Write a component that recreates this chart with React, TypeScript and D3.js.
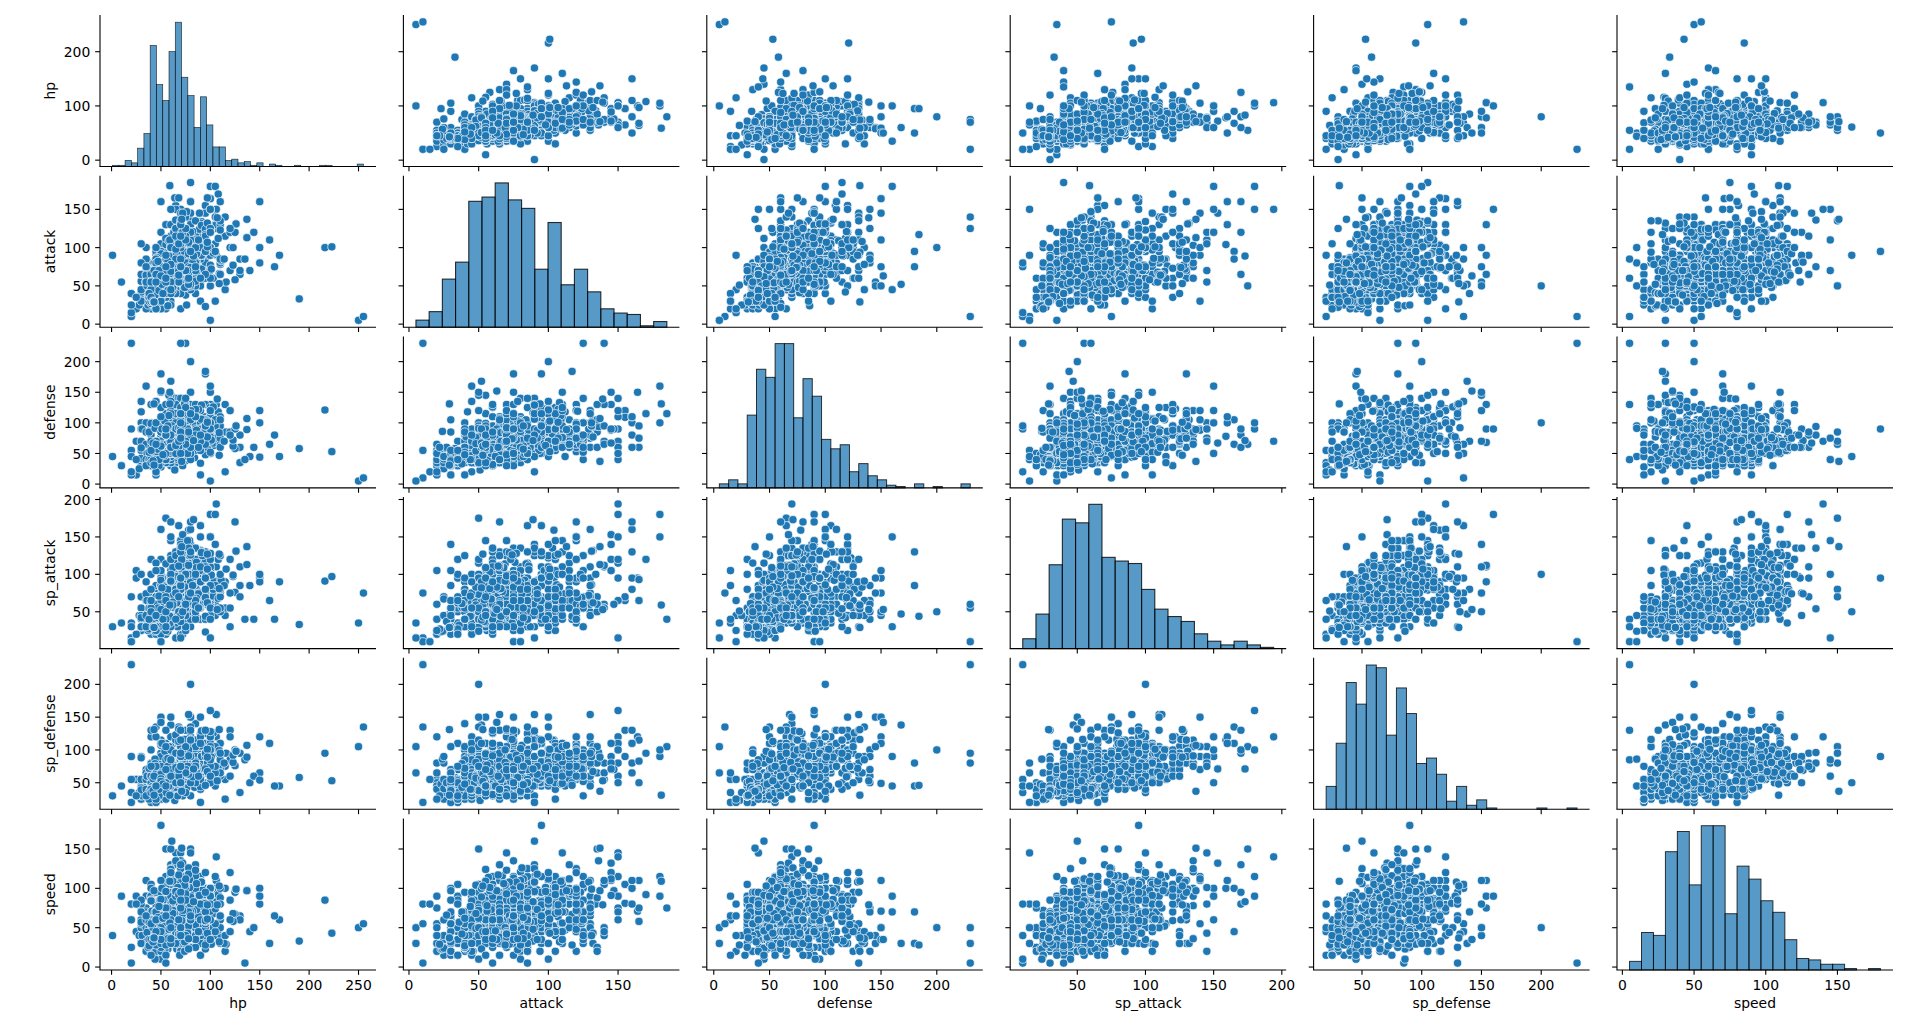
import React from "react";
import * as d3 from "d3";

const statNames = ["hp", "attack", "defense", "sp_attack", "sp_defense", "speed"];
const gen1: number[][] = [
[45,49,49,65,65,45],[60,62,63,80,80,60],[80,100,123,122,120,80],[39,52,43,60,50,65],[58,64,58,80,65,80],[78,104,78,159,115,100],[44,48,65,50,64,43],[59,63,80,65,80,58],[79,103,120,135,115,78],[45,30,35,20,20,45],[50,20,55,25,25,30],[60,45,50,90,80,70],[40,35,30,20,20,50],[45,25,50,25,25,35],[65,150,40,15,80,145],[40,45,40,35,35,56],[63,60,55,50,50,71],[83,80,80,135,80,121],[30,56,35,25,35,72],[75,71,70,40,80,77],[40,60,30,31,31,70],[65,90,65,61,61,100],[35,60,44,40,54,55],[60,95,69,65,79,80],[35,55,40,50,50,90],[60,85,50,95,85,110],[50,75,90,10,35,40],[75,100,120,25,65,65],[55,47,52,40,40,41],[70,62,67,55,55,56],[90,92,87,75,85,76],[46,57,40,40,40,50],[61,72,57,55,55,65],[81,102,77,85,75,85],[70,45,48,60,65,35],[95,70,73,95,90,60],[38,41,40,50,65,65],[73,67,75,81,100,109],[115,45,20,45,25,20],[140,70,45,85,50,45],[40,45,35,30,40,55],[75,80,70,65,75,90],[45,50,55,75,65,30],[60,65,70,85,75,40],[75,80,85,110,90,50],[35,70,55,45,55,25],[60,95,80,60,80,30],[60,55,50,40,55,45],[70,65,60,90,75,90],[10,55,30,35,45,90],[35,100,60,50,70,110],[40,35,35,50,40,90],[65,60,60,75,65,115],[50,52,48,65,50,55],[80,82,78,95,80,85],[40,80,35,35,45,70],[65,105,60,60,70,95],[55,70,45,70,50,60],[90,110,80,100,80,95],[40,50,40,40,40,90],[65,65,65,50,50,90],[90,95,95,70,90,70],[25,20,15,105,55,90],[40,35,30,120,70,105],[55,50,65,175,105,150],[70,80,50,35,35,35],[80,100,70,50,60,45],[90,130,80,65,85,55],[50,75,35,70,30,40],[65,90,50,85,45,55],[80,105,65,100,70,70],[40,40,35,50,100,70],[80,70,65,80,120,100],[40,80,100,30,30,20],[55,95,115,45,45,35],[80,120,130,55,65,45],[50,85,55,65,65,90],[65,100,70,80,80,105],[90,65,65,40,40,15],[95,75,180,130,80,30],[25,35,70,95,55,45],[50,60,95,120,70,70],[52,90,55,58,62,60],[35,85,45,35,35,75],[60,110,70,60,60,110],[65,45,55,45,70,45],[90,70,80,70,95,70],[80,80,50,40,50,25],[105,105,75,65,100,50],[30,65,100,45,25,40],[50,95,180,85,45,70],[30,35,30,100,35,80],[45,50,45,115,55,95],[60,65,80,170,95,130],[35,45,160,30,45,70],[60,48,45,43,90,42],[85,73,70,73,115,67],[30,105,90,25,25,50],[55,130,115,50,50,75],[40,30,50,55,55,100],[60,50,70,80,80,150],[60,40,80,60,45,40],[95,105,85,125,75,45],[50,50,95,40,50,35],[60,80,110,50,80,45],[50,120,53,35,110,87],[50,105,79,35,110,76],[90,55,75,60,75,30],[40,65,95,60,45,35],[65,90,120,85,70,60],[80,85,95,30,30,25],[105,130,120,45,45,40],[250,5,5,35,105,50],[65,55,115,100,40,60],[105,125,100,60,100,100],[30,40,70,70,25,60],[55,65,95,95,45,85],[45,67,60,35,50,63],[80,92,65,65,80,68],[30,45,55,70,55,85],[60,75,85,100,85,115],[40,45,65,100,120,90],[70,110,80,55,80,105],[65,50,35,115,95,95],[65,83,57,95,85,105],[65,95,57,100,85,93],[65,155,120,65,90,105],[75,100,95,40,70,110],[20,10,55,15,20,80],[95,155,109,70,130,81],[130,85,80,85,95,60],[48,48,48,48,48,48],[55,55,50,45,65,55],[130,65,60,110,95,65],[65,65,60,110,95,130],[65,130,60,95,110,65],[65,60,70,85,75,40],[35,40,100,90,55,35],[70,60,125,115,70,55],[30,80,90,55,45,55],[60,115,105,65,70,80],[80,135,85,70,95,150],[160,110,65,65,110,30],[90,85,100,95,125,85],[90,90,85,125,90,100],[90,100,90,125,85,90],[41,64,45,50,50,50],[61,84,65,70,70,70],[91,134,95,100,100,80],[106,150,70,194,120,140],[100,100,100,100,100,100],
];
const gen2: number[][] = [
[45,49,65,49,65,45],[60,62,80,63,80,60],[80,82,100,83,100,80],[39,52,43,60,50,65],[58,64,58,80,65,80],[78,84,78,109,85,100],[50,65,64,44,48,43],[65,80,80,59,63,58],[85,105,100,79,83,78],[35,46,34,35,45,20],[85,76,64,45,55,90],[60,30,30,36,56,50],[100,50,50,86,96,70],[40,20,30,40,80,55],[55,35,50,55,110,85],[40,60,40,40,40,30],[70,90,70,60,70,40],[85,90,80,70,80,130],[75,38,38,56,56,67],[125,58,58,76,76,67],[20,40,15,35,35,60],[50,25,28,45,55,15],[90,30,15,40,20,15],[35,20,65,40,65,20],[55,40,85,80,105,40],[40,50,45,70,45,70],[65,75,70,95,70,95],[55,40,40,65,45,35],[70,55,55,80,60,45],[90,95,105,165,110,45],[75,80,95,90,100,50],[70,20,50,20,50,40],[100,50,80,60,80,50],[70,100,115,30,65,30],[90,75,75,90,100,70],[35,35,40,35,55,50],[55,45,50,45,65,80],[75,55,70,55,95,110],[55,70,55,40,55,85],[30,30,30,30,30,30],[75,75,55,105,85,30],[65,65,45,75,45,95],[55,45,45,25,25,15],[95,85,85,65,65,35],[65,65,60,130,95,110],[95,65,110,60,130,65],[60,85,42,85,42,91],[95,75,80,100,110,30],[60,60,60,85,85,85],[48,72,48,72,48,48],[190,33,58,33,58,33],[70,80,65,90,65,85],[50,65,90,35,35,15],[75,90,140,60,60,40],[100,70,70,65,65,45],[65,75,105,35,65,85],[75,125,230,55,95,30],[60,80,50,40,40,30],[90,120,75,60,60,45],[65,95,85,55,55,85],[70,150,140,65,100,75],[20,10,230,10,230,5],[80,185,115,40,105,75],[55,95,55,35,75,115],[60,80,50,50,50,40],[90,130,75,75,75,55],[40,40,40,70,40,20],[60,50,120,90,80,30],[50,50,40,30,30,50],[100,100,80,60,60,50],[65,55,95,65,95,35],[35,65,35,65,35,65],[75,105,75,105,75,45],[45,55,45,65,45,75],[85,40,70,80,140,70],[65,80,140,40,70,70],[45,60,30,80,50,65],[75,90,90,140,90,115],[75,95,95,95,95,85],[90,60,60,40,40,40],[90,120,120,60,60,50],[85,80,90,105,95,60],[73,95,62,85,65,85],[55,20,35,20,45,75],[35,35,35,35,35,35],[50,95,95,35,110,70],[45,30,15,85,65,65],[45,63,37,65,55,95],[45,75,37,70,55,83],[95,80,105,40,70,100],[255,10,10,75,135,55],[90,85,75,115,100,115],[115,115,85,90,75,100],[100,75,115,90,115,85],[50,64,50,45,50,41],[70,84,70,65,70,51],[100,164,150,95,120,71],[106,90,130,90,154,110],[106,130,90,110,154,90],[100,100,100,100,100,100],
];
const gen3: number[][] = [
[40,45,35,65,55,70],[50,65,45,85,65,95],[70,110,75,145,85,145],[45,60,40,70,50,45],[60,85,60,85,60,55],[80,160,80,130,80,100],[50,70,50,50,50,40],[70,85,70,60,70,50],[100,150,110,95,110,70],[35,55,35,30,30,35],[70,90,70,60,60,70],[38,30,41,30,41,60],[78,70,61,50,61,100],[45,45,35,20,30,20],[50,35,55,25,25,15],[60,70,50,100,50,65],[50,35,55,25,25,15],[60,50,70,50,90,65],[40,30,30,40,50,30],[60,50,50,60,70,50],[80,70,70,90,100,70],[40,40,50,30,30,30],[70,70,40,60,40,60],[90,100,60,90,60,80],[40,55,30,30,30,85],[60,85,60,75,50,125],[40,30,30,55,30,85],[60,50,100,95,70,65],[28,25,25,45,35,40],[38,35,35,65,55,50],[68,85,65,165,135,100],[40,30,32,50,52,65],[70,60,62,100,82,80],[60,40,60,40,60,35],[60,130,80,60,60,70],[60,60,60,35,35,30],[80,80,80,55,55,90],[150,160,100,95,65,100],[31,45,90,30,30,40],[61,90,45,50,50,160],[1,90,45,30,30,40],[64,51,23,51,23,28],[84,71,43,71,43,48],[104,91,63,91,73,68],[72,60,30,20,30,25],[144,120,60,40,60,50],[50,20,40,20,40,20],[30,45,135,45,90,30],[50,45,45,35,35,50],[70,65,65,55,55,90],[50,85,125,85,115,20],[50,105,125,55,95,50],[50,70,100,40,40,30],[60,90,140,50,50,40],[70,140,230,60,80,50],[30,40,55,40,55,60],[60,100,85,80,85,100],[40,45,40,65,40,65],[70,75,80,135,80,135],[60,50,40,85,75,95],[60,40,50,75,85,95],[65,73,75,47,85,85],[65,47,75,73,85,85],[50,60,45,100,80,65],[70,43,53,43,53,40],[100,73,83,73,83,55],[45,90,20,65,20,65],[70,140,70,110,65,105],[130,70,35,70,35,60],[170,90,45,90,45,60],[60,60,40,65,45,35],[70,120,100,145,105,20],[70,85,140,85,70,20],[60,25,35,70,80,60],[80,45,65,90,110,80],[60,60,60,60,60,60],[45,100,45,45,45,10],[50,70,50,50,50,70],[80,100,80,80,80,100],[50,85,40,85,40,35],[70,115,60,115,60,55],[45,40,60,40,75,50],[75,110,110,110,105,80],[73,115,60,60,60,90],[73,100,60,100,60,65],[90,55,65,95,85,70],[90,95,85,55,65,70],[50,48,43,46,41,60],[110,78,73,76,71,60],[43,80,65,50,35,35],[63,120,85,90,55,55],[40,40,55,40,70,55],[60,70,105,70,120,75],[66,41,77,61,87,23],[86,81,97,81,107,43],[45,95,50,40,50,75],[75,125,100,70,80,45],[20,15,20,10,55,80],[95,60,79,100,125,81],[70,70,70,70,70,70],[60,90,70,60,120,40],[44,75,35,63,33,45],[64,165,75,93,83,75],[20,40,90,30,90,25],[40,70,130,60,130,25],[99,68,83,72,87,51],[75,50,80,95,90,65],[65,150,60,115,60,115],[95,23,48,23,48,23],[50,50,50,50,50,50],[80,120,80,120,80,100],[70,40,50,55,50,25],[90,60,70,75,70,45],[110,80,90,95,90,65],[35,64,85,74,55,32],[55,104,105,94,75,52],[55,84,105,114,75,52],[100,90,130,45,65,55],[43,30,55,40,65,97],[45,75,60,40,30,50],[65,95,100,60,50,50],[95,145,130,120,90,120],[40,55,80,35,60,30],[60,75,100,55,80,50],[80,145,150,105,110,110],[80,100,200,50,100,50],[80,50,100,100,200,50],[80,75,150,75,150,50],[80,100,120,140,150,110],[80,130,100,160,120,110],[100,150,90,180,160,90],[100,180,160,150,90,90],[105,180,100,180,100,115],[100,100,100,100,100,100],[50,95,90,95,90,180],
];
const gen4: number[][] = [
[55,68,64,45,55,31],[75,89,85,55,65,36],[95,109,105,75,85,56],[44,58,44,58,44,61],[64,78,52,78,52,81],[76,104,71,104,71,108],[53,51,53,61,56,40],[64,66,68,81,76,50],[84,86,88,111,101,60],[40,55,30,30,30,60],[55,75,50,40,40,80],[85,120,70,50,60,100],[59,45,40,35,40,31],[79,85,60,55,60,71],[37,25,41,25,41,25],[77,85,51,55,51,65],[45,65,34,40,34,45],[60,85,49,60,49,60],[80,120,79,95,79,70],[40,30,35,50,70,55],[60,70,65,125,105,90],[67,125,40,30,30,58],[97,165,60,65,50,58],[30,42,118,42,88,30],[60,52,168,47,138,30],[40,29,45,29,45,36],[60,59,85,79,105,36],[70,94,50,94,50,66],[30,30,42,30,42,70],[70,80,102,80,102,40],[60,45,70,45,90,95],[55,65,35,60,30,85],[85,105,55,85,50,115],[45,35,45,62,53,35],[70,60,70,87,78,85],[76,48,48,57,62,34],[111,83,68,92,82,39],[75,100,66,60,66,115],[90,50,34,60,44,70],[150,80,44,90,54,80],[55,66,44,44,56,85],[65,136,94,54,96,135],[60,60,60,105,105,105],[100,125,52,105,52,71],[49,55,42,42,37,85],[71,82,64,64,59,112],[45,30,50,65,50,45],[63,63,47,41,41,74],[103,93,67,71,61,84],[57,24,86,24,86,23],[67,89,116,79,116,33],[50,80,95,10,45,10],[20,25,45,70,90,60],[100,5,5,15,65,30],[76,65,45,92,42,91],[50,92,108,92,108,35],[58,70,45,40,45,42],[68,90,65,50,55,82],[108,170,115,120,95,92],[135,85,40,40,85,5],[40,70,40,35,40,60],[70,145,88,140,70,112],[68,72,78,38,42,32],[108,112,118,68,72,47],[40,50,90,30,55,65],[70,90,110,60,75,95],[48,61,40,61,40,50],[83,106,65,86,65,85],[74,100,72,90,72,46],[49,49,56,49,61,66],[69,69,76,69,86,91],[45,20,50,60,120,50],[60,62,50,62,60,40],[90,132,105,132,105,30],[70,120,65,45,85,125],[70,70,115,130,90,60],[110,85,95,80,95,50],[115,140,130,55,55,40],[100,100,125,110,50,50],[75,123,67,95,85,95],[75,95,67,125,95,83],[85,50,95,120,115,80],[86,76,86,116,56,95],[65,110,130,60,65,95],[65,60,110,130,95,65],[75,95,125,45,75,95],[110,130,80,70,60,80],[85,80,70,135,75,90],[68,165,95,65,115,110],[60,55,145,75,150,40],[45,100,135,65,135,45],[70,80,70,80,70,110],[50,65,107,105,107,86],[75,75,130,75,130,95],[80,105,105,105,105,80],[75,125,70,125,70,115],[100,120,120,150,100,90],[90,120,100,150,120,100],[91,90,106,130,106,77],[110,160,110,80,110,100],[150,100,120,100,120,90],[120,70,120,75,130,85],[80,80,80,80,80,80],[100,100,100,100,100,100],[70,90,90,135,90,125],[100,100,100,100,100,100],[120,120,120,120,120,120],
];
const gen5: number[][] = [
[100,100,100,100,100,100],[45,45,55,45,55,63],[60,60,75,60,75,83],[75,75,95,75,95,113],[65,63,45,45,45,45],[90,93,55,70,55,55],[110,123,65,100,65,65],[55,55,45,63,45,45],[75,75,60,83,60,60],[95,100,85,108,70,70],[45,55,39,35,39,42],[60,85,69,60,69,77],[45,60,45,25,45,55],[65,80,65,35,65,60],[85,110,90,45,90,80],[41,50,37,50,37,66],[64,88,50,88,50,106],[50,53,48,53,48,64],[75,98,63,98,63,101],[50,53,48,53,48,64],[75,98,63,98,63,101],[50,53,48,53,48,64],[75,98,63,98,63,101],[76,25,45,67,55,24],[116,55,85,107,95,29],[50,55,50,36,30,43],[62,77,62,50,42,65],[80,115,80,65,55,93],[45,60,32,50,32,76],[75,100,63,80,63,116],[55,75,85,25,25,15],[70,105,105,50,40,20],[85,135,130,60,80,25],[65,45,43,55,43,72],[67,57,55,77,55,114],[60,85,40,30,45,68],[110,135,60,50,65,88],[103,60,126,80,126,50],[75,80,55,25,35,35],[85,105,85,40,50,40],[105,140,95,55,65,45],[50,50,40,50,40,64],[75,65,55,65,55,69],[105,95,75,85,75,74],[120,100,85,30,85,45],[75,125,75,30,75,85],[45,53,70,40,60,42],[55,63,90,50,80,42],[75,103,80,70,80,92],[30,45,59,30,39,57],[40,55,99,40,79,47],[60,100,89,55,69,112],[40,27,60,37,50,66],[60,67,85,77,75,116],[45,35,50,70,50,30],[70,60,75,110,75,90],[70,92,65,80,55,98],[50,72,35,35,35,65],[60,82,45,45,45,74],[95,117,80,65,70,92],[70,90,45,15,45,50],[105,30,105,140,105,55],[75,86,67,106,67,60],[50,65,85,35,35,55],[70,105,125,65,75,45],[50,75,70,35,70,48],[65,90,115,45,115,58],[72,58,80,103,80,97],[38,30,85,55,65,30],[58,50,145,95,105,30],[54,78,103,53,45,22],[74,108,133,83,65,32],[55,112,45,74,45,70],[75,140,65,112,65,110],[50,50,62,40,62,65],[80,95,82,60,82,75],[40,65,40,80,40,65],[60,105,60,120,60,105],[55,50,40,40,40,75],[75,95,60,65,60,115],[45,30,50,55,65,45],[60,45,70,75,85,55],[70,55,95,95,110,65],[45,30,40,105,50,20],[65,40,50,125,60,30],[110,65,75,125,85,30],[62,44,50,44,50,55],[75,87,63,87,63,98],[36,50,50,65,60,44],[51,65,65,80,75,59],[71,95,85,110,95,79],[60,60,50,40,50,75],[80,100,70,60,70,95],[55,75,60,75,60,103],[50,75,45,40,45,60],[70,135,105,60,105,20],[69,55,45,55,55,15],[114,85,70,85,80,30],[55,40,50,65,85,40],[100,60,70,85,105,60],[165,75,80,40,45,65],[50,47,50,57,50,65],[70,77,60,97,60,108],[44,50,91,24,86,10],[74,94,131,54,116,20],[40,55,70,45,60,30],[60,80,95,70,85,50],[60,100,115,70,85,90],[35,55,40,45,40,60],[65,85,70,75,70,40],[85,115,80,105,80,50],[55,55,55,85,55,30],[75,75,75,125,95,40],[50,30,55,65,55,20],[60,40,60,95,60,55],[60,55,90,145,90,80],[46,87,60,30,40,57],[66,117,70,40,50,67],[76,147,90,60,70,97],[55,70,40,60,40,40],[95,130,80,70,80,50],[80,50,50,95,135,105],[50,40,85,40,65,25],[80,70,40,100,60,145],[109,66,84,81,99,32],[45,85,50,55,50,65],[65,125,60,95,60,105],[77,120,90,60,90,48],[59,74,50,35,50,35],[89,124,80,55,80,55],[45,85,70,40,40,60],[65,125,100,60,70,70],[95,110,95,40,95,55],[70,83,50,37,50,60],[100,123,75,57,75,80],[70,55,75,45,65,60],[110,65,105,55,95,80],[85,97,66,105,66,65],[58,109,112,48,48,109],[52,65,50,45,50,38],[72,85,70,65,70,58],[92,105,90,125,90,98],[55,85,55,50,55,60],[85,60,65,135,105,100],[91,90,129,90,72,108],[91,129,90,72,90,108],[91,90,72,90,129,108],[79,115,70,125,80,111],[79,105,70,145,80,101],[100,120,100,150,120,90],[100,150,120,120,100,90],[89,145,90,105,80,91],[125,120,90,170,100,95],[91,72,90,129,90,108],[100,77,77,128,128,90],[71,120,95,120,95,99],
];
const gen6: number[][] = [
[56,61,65,48,45,38],[61,78,95,56,58,57],[88,107,122,74,75,64],[40,45,40,62,60,60],[59,59,58,90,70,73],[75,69,72,114,100,104],[41,56,40,62,44,71],[54,63,52,83,56,97],[72,145,67,153,71,132],[38,36,38,32,36,57],[85,56,77,50,77,78],[45,50,43,40,38,62],[62,73,55,56,52,84],[78,81,71,74,69,126],[38,35,40,27,25,35],[45,22,60,27,30,29],[80,52,50,90,50,89],[62,50,58,73,54,72],[86,68,72,109,66,106],[44,38,39,61,79,42],[54,45,47,75,98,52],[78,65,68,112,154,75],[66,65,48,62,57,52],[123,100,62,97,81,68],[67,82,62,46,48,43],[95,124,78,69,71,58],[75,80,60,65,90,102],[62,48,54,63,60,68],[74,48,76,83,81,104],[45,80,100,35,37,28],[59,110,150,45,49,35],[60,150,50,150,50,60],[78,52,60,63,65,23],[101,72,72,99,89,29],[62,48,66,59,57,49],[82,80,86,85,75,72],[53,54,53,37,46,45],[86,92,88,68,75,73],[42,52,67,39,56,50],[72,105,115,54,86,68],[50,60,60,60,60,30],[65,75,90,97,123,44],[50,53,62,58,63,44],[71,73,88,120,89,59],[44,38,33,61,43,70],[62,55,52,109,94,109],[58,89,77,45,45,48],[82,121,119,69,59,71],[77,59,50,67,63,46],[123,77,72,99,92,58],[95,65,65,110,130,60],[78,92,75,74,63,118],[67,58,57,81,67,101],[50,50,150,50,150,50],[45,50,35,55,75,40],[68,75,53,83,113,60],[90,100,70,110,150,80],[57,80,91,80,87,75],[43,70,48,50,60,38],[85,110,76,65,82,56],[59,66,70,44,55,56],[85,100,122,58,75,54],[55,69,85,32,35,28],[95,117,184,44,46,28],[40,30,35,45,40,55],[85,70,80,97,80,123],[126,131,95,131,98,99],[126,131,95,131,98,99],[216,100,121,91,95,85],[50,160,110,160,110,110],[80,160,60,170,130,80],[80,110,120,130,90,70],
];
const gen7: number[][] = [
[68,55,55,50,50,42],[78,75,75,70,70,52],[78,107,75,100,100,70],[45,65,40,60,40,70],[65,85,50,80,50,90],[95,115,90,80,90,60],[50,54,54,66,56,40],[60,69,69,91,81,50],[80,74,74,126,116,60],[35,75,30,30,30,65],[55,85,50,40,50,75],[80,120,75,75,75,60],[48,70,30,30,30,45],[88,110,60,55,60,45],[47,62,45,55,45,46],[57,82,95,55,75,36],[77,70,90,145,75,43],[47,82,57,42,47,63],[97,132,77,62,67,43],[75,70,70,98,70,93],[40,45,40,55,40,84],[60,55,60,95,70,124],[45,65,40,30,40,60],[75,115,65,55,65,112],[45,20,20,25,25,40],[50,53,62,43,52,45],[50,63,152,53,142,35],[70,100,70,45,55,45],[100,125,100,55,85,35],[38,40,52,40,72,27],[68,70,92,50,132,42],[40,55,35,50,35,35],[70,105,90,80,90,45],[40,35,55,65,75,15],[60,45,80,90,100,30],[48,44,40,71,40,77],[68,64,60,111,60,117],[70,75,50,45,50,50],[120,125,80,55,60,60],[42,30,38,30,38,32],[52,40,48,40,48,62],[72,120,98,50,98,72],[51,52,90,82,110,100],[90,60,80,90,110,60],[100,120,90,40,60,80],[25,35,40,20,30,80],[75,125,140,60,90,40],[55,55,80,70,45,15],[85,75,110,100,75,35],[55,60,130,30,130,5],[95,95,95,95,95,59],[95,95,95,95,95,95],[60,100,60,100,60,120],[65,115,65,75,95,96],[60,78,135,91,85,36],[65,98,63,40,73,96],[55,90,80,50,105,96],[68,105,70,70,70,92],[78,60,85,135,91,36],[70,131,100,86,90,40],[45,55,65,45,45,45],[55,75,90,65,70,65],[75,110,125,100,105,85],[70,115,85,95,75,130],[70,85,75,130,115,95],[70,130,115,85,95,75],[70,75,115,95,130,85],[43,29,31,29,31,37],[43,29,131,29,131,37],[137,137,107,113,89,97],[137,113,89,137,107,97],[109,53,47,127,131,103],[107,139,139,53,53,79],[71,137,37,137,37,151],[83,89,71,173,71,83],[97,101,103,107,101,61],[59,181,131,59,31,109],[223,101,53,97,53,43],[97,107,101,127,89,79],[80,95,115,130,115,65],
];
const rows = [...gen1, ...gen2, ...gen3, ...gen4, ...gen5, ...gen6, ...gen7];

const hpBins = [1,1,5,3,15,27,99,67,54,94,118,73,58,32,57,34,16,16,5,6,3,4,1,3,0,2,1,0,0,1,0,0,0,1,1,0,0,0,0,2];
const attackBins = [5,11,34,46,89,92,102,90,84,41,74,30,41,25,13,10,9,1,4];
const defenseBins = [3,6,3,54,88,82,107,107,52,81,68,36,29,32,12,18,9,6,2,1,0,3,0,1,0,0,3];
const spAttackBins = [8,28,68,105,102,117,74,71,69,48,32,26,22,12,6,3,6,3,1];
const spDefenseBins = [17,49,94,78,107,105,55,90,71,34,38,26,6,17,3,7,1,0,0,0,0,1,0,0,1];
const speedBins = [6,26,24,82,96,59,100,100,39,72,63,48,40,21,8,7,4,4,1,0,1];
const histCounts = [hpBins, attackBins, defenseBins, spAttackBins, spDefenseBins, speedBins];

const xTickValues = [[0,50,100,150,200,250],[0,50,100,150],[0,50,100,150,200],[50,100,150,200],[50,100,150,200],[0,50,100,150]];
const yTickValues = [[0,100,200],[0,50,100,150],[0,50,100,150,200],[50,100,150,200],[50,100,150,200],[0,50,100,150]];

const W = 1920, H = 1013;
const panelW = 276, panelH = 151.5;
const lefts = d3.range(6).map((i) => 100 + i * 303.4);
const tops = d3.range(6).map((i) => 15 + i * 160.7);
const extents = statNames.map((_, i) => d3.extent(rows, (d) => d[i]) as [number, number]);
const pad = (e: [number, number]): [number, number] => { const m = (e[1] - e[0]) * 0.05; return [e[0] - m, e[1] + m]; };
const xScales = extents.map((e, i) => d3.scaleLinear().domain(pad(e)).range([lefts[i], lefts[i] + panelW]));
const yScales = extents.map((e, i) => d3.scaleLinear().domain(pad(e)).range([tops[i] + panelH, tops[i]]));
const fontFamily = "'DejaVu Sans'";
const tickLen = 4.86, tickW = 1.1, fs = 13.9;
const blue = "#1f77b4";

function Panel({ r, c }: { r: number; c: number }) {
  const x0 = lefts[c], y0 = tops[r], x = xScales[c], y = yScales[r];
  const bottom = y0 + panelH;
  let marks: React.ReactNode;
  if (r === c) {
    const counts = histCounts[c];
    const [a, b] = extents[c];
    const bw = (b - a) / counts.length;
    const hy = d3.scaleLinear().domain([0, (d3.max(counts) as number) * 1.05]).range([bottom, y0]);
    marks = counts.map((n, i) => n > 0 ? (
      <rect key={i} x={x(a + i * bw)} width={x(a + (i + 1) * bw) - x(a + i * bw)} y={hy(n)} height={bottom - hy(n)}
        fill={blue} fillOpacity={0.75} stroke="#000" strokeOpacity={0.8} strokeWidth={c === 0 ? 0.65 : c === 1 || c === 3 ? 1.1 : 0.95} />
    ) : null);
  } else {
    marks = rows.map((d, i) => (
      <circle key={i} cx={x(d[c])} cy={y(d[r])} r={4.1} fill={blue} stroke="#fff" strokeWidth={0.67} />
    ));
  }
  return (
    <g>
      {marks}
      <line x1={x0} x2={x0} y1={y0} y2={bottom} stroke="#000" strokeWidth={tickW} />
      <line x1={x0 - tickW / 2} x2={x0 + panelW} y1={bottom} y2={bottom} stroke="#000" strokeWidth={tickW} />
      {xTickValues[c].map((t) => (
        <g key={t}>
          <line x1={x(t)} x2={x(t)} y1={bottom} y2={bottom + tickLen} stroke="#000" strokeWidth={tickW} />
          {r === 5 ? <text x={x(t)} y={bottom + 20.4} textAnchor="middle" fontSize={fs} fontFamily={fontFamily}>{t}</text> : null}
        </g>
      ))}
      {yTickValues[r].map((t) => (
        <g key={t}>
          <line x1={x0 - tickLen} x2={x0} y1={y(t)} y2={y(t)} stroke="#000" strokeWidth={tickW} />
          {c === 0 ? <text x={x0 - 9.7} y={y(t) + 5.1} textAnchor="end" fontSize={fs} fontFamily={fontFamily}>{t}</text> : null}
        </g>
      ))}
      {r === 5 ? <text x={x0 + panelW / 2} y={1008} textAnchor="middle" fontSize={fs} fontFamily={fontFamily}>{statNames[c]}</text> : null}
      {c === 0 ? <text transform={`translate(55,${y0 + panelH / 2}) rotate(-90)`} textAnchor="middle" fontSize={fs} fontFamily={fontFamily}>{statNames[r]}</text> : null}
    </g>
  );
}

export default function App() {
  return (
    <svg width={W} height={H} viewBox={`0 0 ${W} ${H}`} style={{ position: "absolute", left: 0, top: 0, background: "#fff" }}>
      {d3.range(6).map((r) => d3.range(6).map((c) => <Panel key={`${r}-${c}`} r={r} c={c} />))}
    </svg>
  );
}
